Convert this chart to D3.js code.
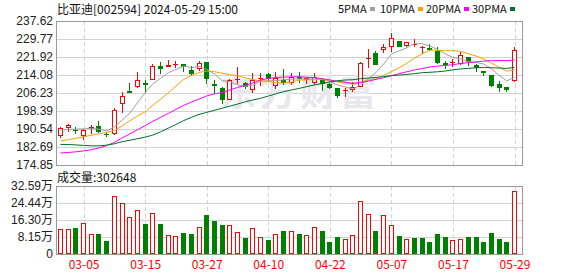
<!DOCTYPE html>
<html>
<head>
<meta charset="utf-8">
<script src="https://cdn.jsdelivr.net/npm/d3@7"></script>
<style>
  body { margin: 0; background: #fff; }
  svg { display: block; }
  text { font-family: 'Noto Sans CJK SC', 'Liberation Sans', sans-serif; }
</style>
</head>
<body>
<div id="chart"></div>
<script>
const dates = ['02-29','03-01','03-04','03-05','03-06','03-07','03-08','03-11','03-12','03-13','03-14','03-15',
  '03-18','03-19','03-20','03-21','03-22','03-25','03-26','03-27','03-28','03-29','04-01','04-02','04-03',
  '04-08','04-09','04-10','04-11','04-12','04-15','04-16','04-17','04-18','04-19','04-22','04-23','04-24',
  '04-25','04-26','04-29','04-30','05-06','05-07','05-08','05-09','05-10','05-13','05-14','05-15','05-16',
  '05-17','05-20','05-21','05-22','05-23','05-24','05-27','05-28','05-29'];
const xTickDates = ['03-05','03-15','03-27','04-10','04-22','05-07','05-17','05-29'];

const opens = [187.35,191.1,190.1,187.5,190.4,191.7,188.5,188.2,201.3,207.1,208.7,210.45,212.05,218.0,217.4,218.88,
  218.73,216.26,216.55,219.6,210.0,208.4,203.33,212.05,210.6,207.4,212.2,214.66,209.14,211.76,210.6,213.06,211.9,
  210.74,211.9,210.3,208.27,207.25,207.4,208.85,221.2,223.67,225.1,226.4,228.76,226.58,227.3,225.7,225.7,224.54,
  219.3,219.3,218.73,221.93,218.6,215.8,214.08,210.3,208.85,211.32];
const highs = [191.4,192.58,191.4,190.7,192.3,194.0,189.2,199.55,206.8,210.6,215.4,211.76,218.74,219.75,220.6,220.2,
  218.88,217.86,220.2,219.75,211.76,208.7,212.2,217.57,211.2,214.8,214.8,214.8,215.24,216.84,215.1,215.5,213.35,
  215.1,212.6,210.74,208.4,208.56,211.2,219.75,225.27,224.7,227.45,232.24,228.9,228.4,229.63,226.87,227.45,226.29,
  220.2,220.9,224.25,222.07,218.73,215.97,214.2,211.3,208.85,226.43];
const lows = [186.5,189.2,188.2,185.6,188.5,188.95,187.05,188.07,197.67,206.1,208.56,206.4,211.76,214.66,217.4,217.28,
  215.5,213.64,215.8,210.3,205.95,201.3,203.04,210.3,207.84,206.4,209.3,211.2,208.12,209.72,209.7,210.74,210.0,
  209.72,207.1,208.12,204.2,204.64,206.8,208.7,216.99,218.4,223.8,224.25,226.29,226.4,226.29,223.09,224.7,218.73,
  216.84,217.7,218.4,217.86,215.4,213.79,209.0,206.8,206.8,211.17];
const closes = [190.83,192.14,189.5,190.25,191.27,189.2,188.07,198.68,204.78,206.4,212.05,209.87,218.0,216.84,218.58,
  219.02,217.57,214.37,219.46,212.2,209.14,203.3,211.76,212.34,209.0,211.76,212.6,212.4,212.92,210.74,213.2,212.4,
  212.6,213.2,210.0,208.56,204.93,207.54,208.85,219.3,221.5,218.6,226.29,230.06,226.43,228.32,227.6,226.14,224.98,
  219.17,218.6,219.6,222.8,219.6,217.13,215.1,209.43,208.56,207.54,224.83];
const volumes = [119000,119000,125600,148000,95000,97000,64000,277000,243000,176000,210000,145000,196000,145000,91000,
  86000,102000,97000,129000,188000,159000,140000,138000,106500,78000,124000,81000,68000,95000,111000,110000,97000,
  91000,129000,111000,59000,81000,72000,91000,253000,192000,111000,186000,138000,86000,72000,78000,78000,59000,
  97000,83000,68000,72000,83000,83000,59000,102000,73000,59000,302648];

const ma5 = [190.0,190.4,190.5,190.6,190.8,190.47,189.66,191.49,194.4,197.43,202.0,206.36,210.22,212.63,215.07,216.46,
  218.0,217.28,217.8,216.52,214.55,211.69,211.17,209.75,209.11,209.63,211.38,211.53,211.64,211.99,212.28,212.39,
  212.3,212.36,212.21,211.28,209.75,208.85,207.98,209.84,212.42,215.16,218.91,223.15,224.58,225.94,227.74,227.71,
  226.69,225.24,223.3,221.7,221.03,219.95,219.55,218.85,216.81,213.96,211.55,213.09];
const ma10 = [185.3,185.9,186.5,187.1,187.8,188.5,189.0,189.9,191.8,194.11,196.23,198.01,200.86,203.52,206.25,209.23,
  212.18,213.75,215.22,215.8,215.51,214.85,214.22,213.77,212.82,212.09,211.54,211.35,210.7,210.55,210.96,211.89,
  211.91,212.0,212.1,211.78,211.07,210.57,210.17,211.02,211.85,212.45,213.88,215.56,217.21,219.18,221.45,223.31,
  224.92,224.91,224.62,224.72,224.37,223.32,222.39,221.07,219.26,217.5,215.75,216.32];
const ma20 = [180.1,180.3,180.6,181.0,181.5,182.3,183.3,184.7,186.6,188.4,190.2,192.0,193.9,195.6,197.3,199.1,200.8,
  202.3,203.6,204.95,205.87,206.43,207.54,208.65,209.53,210.66,211.86,212.55,212.96,213.17,213.23,213.37,213.07,
  212.89,212.46,211.94,211.3,210.96,210.43,210.79,211.4,212.17,212.9,213.78,214.65,215.48,216.26,216.94,217.54,
  217.97,218.24,218.59,219.12,219.44,219.8,220.13,220.35,220.4,220.34,220.61];
const ma30 = [183.8,183.8,183.6,183.4,183.2,183.2,183.5,184.1,185.0,185.6,186.3,187.0,187.9,189.3,190.9,192.5,194.2,
  195.6,196.9,197.8,198.7,199.6,200.5,201.4,202.4,203.2,203.9,204.9,205.9,206.82,207.56,208.25,209.0,209.76,
  210.39,211.03,211.6,211.89,212.03,212.46,212.77,213.06,213.34,213.78,214.04,214.35,214.69,215.08,215.26,215.49,
  215.81,216.35,216.72,216.96,217.23,217.34,217.26,217.13,216.95,217.42];

const priceTicks = [174.85,182.69,190.54,198.39,206.23,214.08,221.92,229.77,237.62];
const volTicks = [0,81500,163000,244400,325900];
const volTickLabels = ['0','8.15万','16.30万','24.44万','32.59万'];

const maSeries = [
  { name: '5PMA', values: ma5, color: '#a0a0a0' },
  { name: '10PMA', values: ma10, color: '#f5a300' },
  { name: '20PMA', values: ma20, color: '#ff00ff' },
  { name: '30PMA', values: ma30, color: '#00702f' }
];

const width = 578, height = 276;
const left = 56, right = 522;
const price = { top: 21, bottom: 165 };
const vol = { top: 186, bottom: 254 };
const RED = '#ff0000', GREEN = '#008000', GRID = '#d3d3d3', BORDER = '#999';

const svg = d3.select('#chart').append('svg').attr('width', width).attr('height', height);

const x = d3.scalePoint().domain(dates).range([60.5, 514.5]);
const y = d3.scaleLinear().domain([priceTicks[0], priceTicks[priceTicks.length - 1]]).range([price.bottom, price.top]);
const yv = d3.scaleLinear().domain([0, volTicks[volTicks.length - 1]]).range([vol.bottom, vol.top]);

// pixel column where a 5px wide bar starts
const barLeft = (d) => Math.round(x(d) - 0.5) - 2;

// horizontal grid + left labels
function panelAxis(scale, ticks, fmt) {
  return (g) => {
    g.attr('transform', `translate(${left},0)`)
      .call(d3.axisLeft(scale).tickValues(ticks).tickSize(0).tickPadding(3).tickFormat(fmt))
      .call((g) => g.select('.domain').remove())
      .call((g) => g.selectAll('text').attr('fill', '#222').style('font-family', "'Liberation Sans', Arial, sans-serif").style('font-size', '12px'));
    g.selectAll('.tick')
      .append('line')
      .attr('x1', 0)
      .attr('x2', right - left)
      .attr('stroke', GRID)
      .attr('shape-rendering', 'crispEdges');
  };
}

svg.append('g').call(panelAxis(y, priceTicks, d3.format('.2f')));
svg.append('g').call(panelAxis(yv, volTicks, (d, i) => volTickLabels[i]));
svg.selectAll('.tick text').style('font-family', "'Liberation Sans', 'Noto Sans CJK SC', sans-serif");

// vertical dashed grid
[price, vol].forEach((p) => {
  svg.append('g')
    .selectAll('line')
    .data(xTickDates)
    .enter()
    .append('line')
    .attr('x1', (d) => Math.round(x(d)) + 0.5)
    .attr('x2', (d) => Math.round(x(d)) + 0.5)
    .attr('y1', p.top)
    .attr('y2', p.bottom)
    .attr('stroke', GRID)
    .attr('stroke-dasharray', '4,3');
});

// x labels
svg.append('g')
  .attr('transform', `translate(0,${vol.bottom})`)
  .call(d3.axisBottom(x).tickValues(xTickDates).tickSize(0).tickPadding(6))
  .call((g) => g.select('.domain').remove())
  .call((g) => g.selectAll('text').attr('fill', RED).style('font-size', '12px').style('font-family', "'Noto Sans CJK SC', sans-serif"));

// watermark
svg.append('text')
  .attr('x', 220)
  .attr('y', 106)
  .attr('fill', '#e7e7ec')
  .style('font-size', '36px')
  .style('font-weight', 'bold')
  .style('letter-spacing', '4px')
  .text('东方财富');

// candles
const idx = d3.range(dates.length);
const candles = svg.append('g').attr('shape-rendering', 'crispEdges');
candles.selectAll('.wick')
  .data(idx)
  .enter()
  .append('line')
  .attr('x1', (i) => barLeft(dates[i]) + 2.5)
  .attr('x2', (i) => barLeft(dates[i]) + 2.5)
  .attr('y1', (i) => y(highs[i]))
  .attr('y2', (i) => y(lows[i]))
  .attr('stroke', (i) => (closes[i] >= opens[i] ? RED : GREEN));

candles.selectAll('.body')
  .data(idx)
  .enter()
  .append('rect')
  .each(function (i) {
    const up = closes[i] >= opens[i];
    const top = Math.round(y(Math.max(opens[i], closes[i])));
    const bot = Math.max(top + 1, Math.round(y(Math.min(opens[i], closes[i]))));
    const r = d3.select(this);
    if (up) {
      r.attr('x', barLeft(dates[i]) + 0.5).attr('y', top + 0.5).attr('width', 4).attr('height', Math.max(bot - top - 1, 0.01))
        .attr('fill', '#fff').attr('stroke', RED);
    } else {
      r.attr('x', barLeft(dates[i])).attr('y', top).attr('width', 5).attr('height', Math.max(bot - top, 1))
        .attr('fill', GREEN);
    }
  });

// moving averages
maSeries.forEach((s) => {
  svg.append('path')
    .datum(s.values)
    .attr('fill', 'none')
    .attr('stroke', s.color)
    .attr('stroke-width', 1)
    .attr('d', d3.line().x((d, i) => x(dates[i])).y((d) => y(d)));
});

// volume bars (colour by change vs previous close)
svg.append('g')
  .attr('shape-rendering', 'crispEdges')
  .selectAll('rect')
  .data(idx)
  .enter()
  .append('rect')
  .each(function (i) {
    const up = i === 0 ? closes[0] >= opens[0] : closes[i] >= closes[i - 1];
    const top = Math.round(yv(volumes[i]));
    const r = d3.select(this);
    if (up) {
      r.attr('x', barLeft(dates[i]) + 0.5).attr('y', top + 0.5).attr('width', 4).attr('height', vol.bottom - top - 1)
        .attr('fill', '#fff').attr('stroke', RED);
    } else {
      r.attr('x', barLeft(dates[i])).attr('y', top).attr('width', 5).attr('height', vol.bottom - top)
        .attr('fill', GREEN);
    }
  });

// panel borders
[price, vol].forEach((p) => {
  svg.append('rect')
    .attr('x', left + 0.5)
    .attr('y', p.top + 0.5)
    .attr('width', right - left)
    .attr('height', p.bottom - p.top)
    .attr('fill', 'none')
    .attr('stroke', BORDER)
    .attr('shape-rendering', 'crispEdges');
});

// titles
svg.append('text')
  .attr('x', 57)
  .attr('y', 14)
  .attr('fill', '#111')
  .style('font-size', '12px')
  .text('比亚迪[002594] 2024-05-29 15:00');

svg.append('text')
  .attr('x', 57)
  .attr('y', 182)
  .attr('fill', '#111')
  .style('font-size', '12px')
  .text('成交量:' + volumes[volumes.length - 1]);

// legend
const legendX = [338, 380, 426, 472];
maSeries.forEach((s, i) => {
  const t = svg.append('text')
    .attr('x', legendX[i])
    .attr('y', 13)
    .attr('fill', '#111')
    .style('font-size', '11px')
    .text(s.name);
  const w = t.node().getComputedTextLength();
  svg.append('rect')
    .attr('x', Math.round(legendX[i] + w + 3))
    .attr('y', 7)
    .attr('width', 5)
    .attr('height', 4)
    .attr('fill', s.color);
});
</script>
</body>
</html>
